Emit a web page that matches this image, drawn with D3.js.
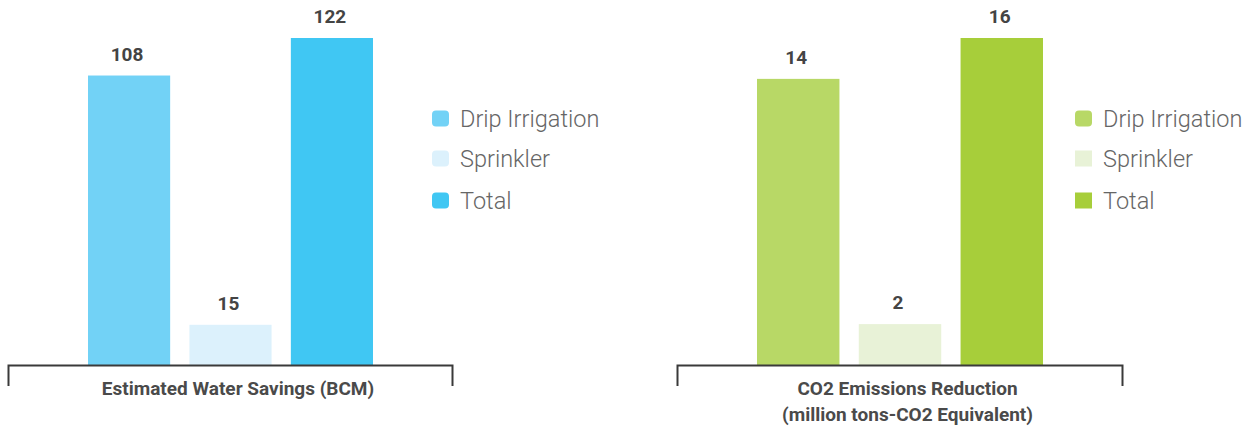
<!DOCTYPE html>
<html>
<head>
<meta charset="utf-8">
<script src="https://cdn.jsdelivr.net/npm/d3@7"></script>
<style>
  html, body { margin: 0; padding: 0; background: #fff; }
  svg { display: block; font-family: Roboto, "Noto Sans", sans-serif; }
</style>
</head>
<body>
<svg id="chart" width="1251" height="428"></svg>
<script>
// ---- data ----
const series = ["Drip Irrigation", "Sprinkler", "Total"];
const waterValues = [108, 15, 122];
const co2Values = [14, 2, 16];
const waterTitle = ["Estimated Water Savings (BCM)"];
const co2Title = ["CO2 Emissions Reduction", "(million tons-CO2 Equivalent)"];
const waterColors = ["#72d2f6", "#dcf1fc", "#40c7f3"];
const co2Colors = ["#b8d866", "#e8f2d7", "#a7ce3a"];

// ---- layout ----
const svg = d3.select("#chart");
const baseY = 365, topY = 38;

const panels = [
  { values: waterValues, colors: waterColors, title: waterTitle, axisX: [8, 452], legendX: 432, rounded: [true, true, true] },
  { values: co2Values, colors: co2Colors, title: co2Title, axisX: [677, 1122], legendX: 1075, rounded: [true, false, false] }
];
const legendBaselines = [127, 167, 209];

panels.forEach(p => {
  const g = svg.append("g");
  const [a0, a1] = p.axisX;
  const x = d3.scaleBand().domain(series).range([a0 + 80, a1 - 79]).paddingInner(0.19).paddingOuter(0);
  const y = d3.scaleLinear().domain([0, d3.max(p.values)]).range([baseY, topY]);
  const data = series.map((s, i) => ({ s, v: p.values[i], c: p.colors[i] }));

  g.selectAll("rect.bar").data(data).join("rect")
    .attr("class", "bar")
    .attr("x", d => x(d.s))
    .attr("width", x.bandwidth())
    .attr("y", d => y(d.v))
    .attr("height", d => baseY - y(d.v))
    .attr("fill", d => d.c);

  g.selectAll("text.val").data(data).join("text")
    .attr("class", "val")
    .attr("x", d => x(d.s) + x.bandwidth() / 2 - 2)
    .attr("y", d => y(d.v) - 15)
    .attr("text-anchor", "middle")
    .attr("font-size", 19)
    .attr("font-weight", 700)
    .attr("fill", "#444")
    .text(d => d.v);

  // bracket axis
  const xo = d3.scaleLinear().domain([0, 1]).range([a0, a1]);
  const ax = g.append("g").attr("transform", `translate(0,${baseY})`)
    .call(d3.axisBottom(xo).tickValues([]).tickSizeOuter(21));
  ax.select(".domain").attr("stroke", "#3a3a3a").attr("stroke-width", 2);

  const cx = (a0 + a1) / 2 + 8;
  p.title.forEach((t, i) => {
    g.append("text")
      .attr("x", cx)
      .attr("y", 395 + i * 25.5)
      .attr("text-anchor", "middle")
      .attr("font-size", 19)
      .attr("font-weight", 700)
      .attr("fill", "#4a4a4a")
      .text(t);
  });

  // legend
  const lg = g.append("g");
  data.forEach((d, i) => {
    lg.append("rect")
      .attr("x", p.legendX)
      .attr("y", legendBaselines[i] - 16.5)
      .attr("width", 17)
      .attr("height", 16)
      .attr("rx", p.rounded[i] ? 4 : 0)
      .attr("fill", d.c);
    lg.append("text")
      .attr("x", p.legendX + 28)
      .attr("y", legendBaselines[i])
      .attr("font-size", 23.5)
      .attr("font-weight", 300)
      .attr("fill", "#666")
      .text(d.s);
  });
});
</script>
</body>
</html>
